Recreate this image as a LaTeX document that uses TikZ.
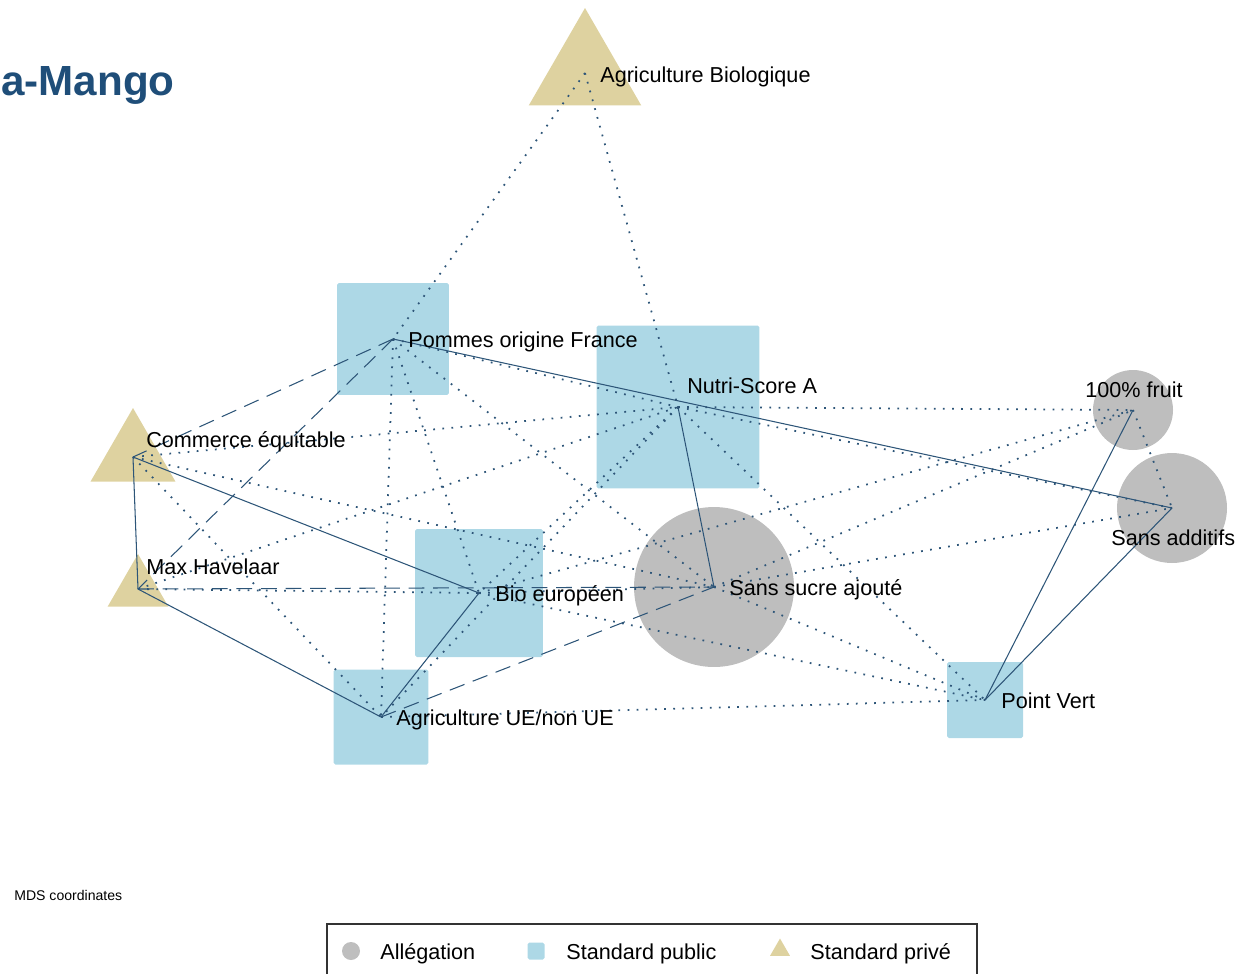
\documentclass[tikz,border=0pt]{standalone}
\usepackage{fontspec}
\setmainfont{Liberation Sans}
\usetikzlibrary{shapes.geometric}
\definecolor{pubblue}{RGB}{173,216,230}
\definecolor{allgray}{RGB}{190,190,190}
\definecolor{privtan}{RGB}{222,210,160}
\definecolor{edgeblue}{RGB}{45,85,120}
\definecolor{titleblue}{RGB}{31,78,121}

\begin{document}
\begin{tikzpicture}[x=0.02cm, y=-0.02cm,
    pub/.style={rectangle, fill=pubblue, rounded corners=1pt, inner sep=0pt, outer sep=0pt},
    alleg/.style={circle, fill=allgray, inner sep=0pt, outer sep=0pt},
    priv/.style={regular polygon, regular polygon sides=3, fill=privtan, inner sep=0pt, outer sep=0pt},
    lbl/.style={anchor=base west, inner sep=0pt, font=\fontsize{12.3}{14}\selectfont},
    link/.style={draw=edgeblue, line width=0.6pt},
    dashlink/.style={link, dash pattern=on 9pt off 5pt},
    dotlink/.style={link, line width=1pt, dash pattern=on 1pt off 4.2pt}]
	\useasboundingbox (0,0) rectangle (1239,974);
	% shapes
	\node[priv, minimum size=2.6cm] (ab) at (585,73) {};
	\node[pub, minimum size=2.24cm] (pof) at (393,339) {};
	\node[pub, minimum size=3.26cm] (ns) at (678,407) {};
	\node[alleg, minimum size=1.6cm] (fruit) at (1133,410) {};
	\node[priv, minimum size=1.96cm] (ce) at (133,457) {};
	\node[alleg, minimum size=2.2cm] (sa) at (1172,508) {};
	\node[priv, minimum size=1.4cm] (mh) at (138,589) {};
	\node[pub, minimum size=2.56cm] (be) at (479,593) {};
	\node[alleg, minimum size=3.2cm] (ssa) at (714,587) {};
	\node[pub, minimum size=1.9cm] (aue) at (381,717) {};
	\node[pub, minimum size=1.52cm] (pv) at (985,700) {};
	% links
	\foreach \a/\b in {ab/pof, ab/ns, pof/ns, pof/be, pof/aue, pof/ssa, ns/fruit, ns/sa,
	                   ns/pv, ns/be, ns/aue, ce/ns, ce/ssa, ce/aue, mh/ns, mh/be, be/ssa,
	                   be/fruit, be/pv, ssa/fruit, ssa/sa, ssa/pv, aue/pv, fruit/sa}
		\draw[dotlink] (\a.center) -- (\b.center);
	\foreach \a/\b in {pof/ce, pof/mh, mh/ssa, aue/ssa}
		\draw[dashlink] (\a.center) -- (\b.center);
	\foreach \a/\b in {pof/sa, ns/ssa, ce/mh, ce/be, mh/aue, be/aue, fruit/pv, sa/pv}
		\draw[link] (\a.center) -- (\b.center);
	% labels
	\node[lbl] (ab-l) at (600,82) {Agriculture Biologique};
	\node[lbl] (pof-l) at (408,347) {Pommes origine France};
	\node[lbl] (ns-l) at (687,393) {Nutri-Score A};
	\node[lbl] (fruit-l) at (1085,397) {100\% fruit};
	\node[lbl] (ce-l) at (146,447) {Commerce équitable};
	\node[lbl] (sa-l) at (1111,545) {Sans additifs};
	\node[lbl] (mh-l) at (146,574) {Max Havelaar};
	\node[lbl] (be-l) at (495,601) {Bio européen};
	\node[lbl] (ssa-l) at (729,595) {Sans sucre ajouté};
	\node[lbl] (pv-l) at (1001,708) {Point Vert};
	\node[lbl] (aue-l) at (396,725) {Agriculture UE/non UE};
	% title and note
	\node[anchor=base west, inner sep=0pt, text=titleblue, font=\fontsize{24}{28}\selectfont\bfseries] (title) at (1,95) {a-Mango};
	\node[anchor=base west, inner sep=0pt, font=\fontsize{8}{10}\selectfont] (mds) at (14,900) {MDS coordinates};
	% legend
	\draw[line width=0.7pt, draw=black!80] (327,974) |- (977,924) -- (977,974);
	\node[alleg, minimum size=0.36cm] (key-a) at (351,951) {};
	\node[lbl] (key-a-l) at (380,959) {Allégation};
	\node[pub, minimum size=0.34cm] (key-p) at (536,951) {};
	\node[lbl] (key-p-l) at (566,959) {Standard public};
	\node[priv, minimum size=0.46cm] (key-s) at (780,950) {};
	\node[lbl] (key-s-l) at (810,959) {Standard privé};
\end{tikzpicture}
\end{document}
